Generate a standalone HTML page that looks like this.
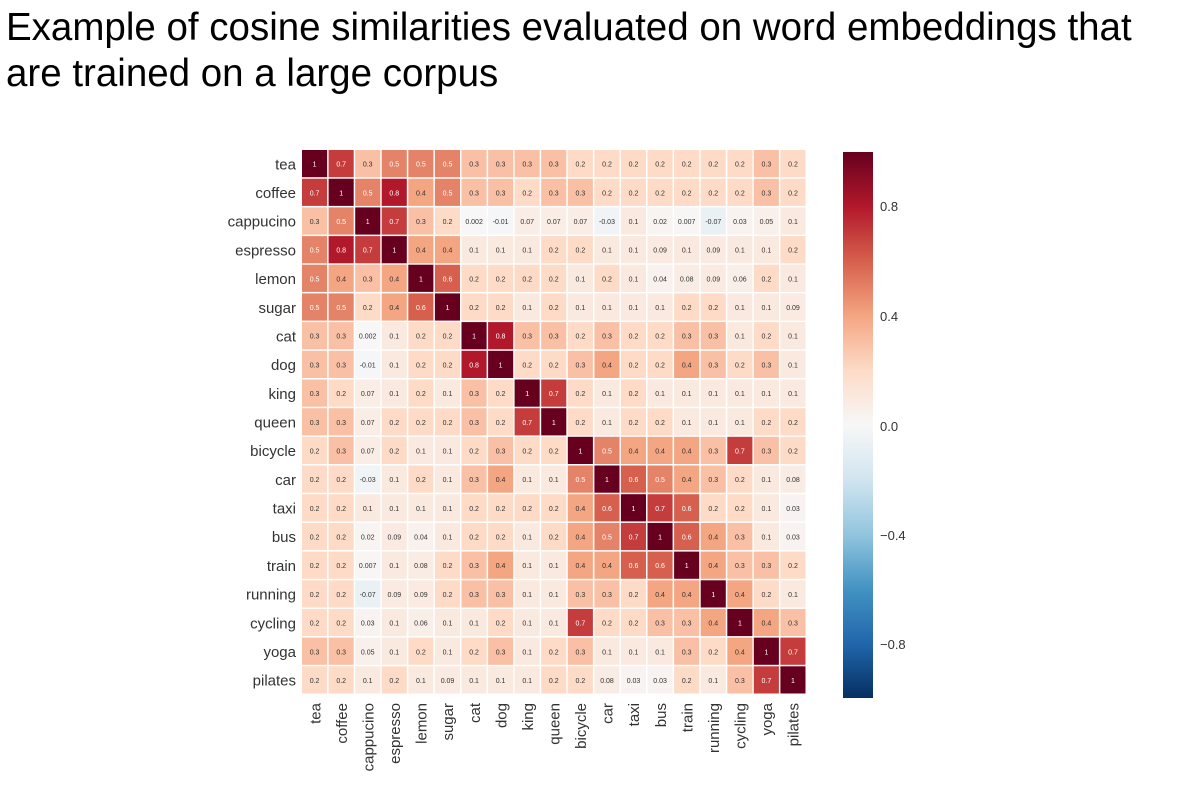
<!DOCTYPE html>
<html><head><meta charset="utf-8"><style>
body{margin:0;background:#fff;width:1186px;height:802px;overflow:hidden;font-family:"Liberation Sans",sans-serif}
.t{position:absolute;left:6px;top:5px;font-size:38.5px;line-height:46px;color:#000;white-space:nowrap}
svg{position:absolute;left:0;top:0}
</style></head><body>
<div class="t">Example of cosine similarities evaluated on word embeddings that<br>are trained on a large corpus</div>
<svg id="s" width="1186" height="802" xmlns="http://www.w3.org/2000/svg">
<defs><linearGradient id="g" x1="0" y1="0" x2="0" y2="1">
<stop offset="0" stop-color="#67001f"/><stop offset="0.1" stop-color="#b2182b"/><stop offset="0.2" stop-color="#d6604d"/><stop offset="0.3" stop-color="#f4a582"/><stop offset="0.4" stop-color="#fddbc7"/><stop offset="0.5" stop-color="#f7f7f7"/><stop offset="0.6" stop-color="#d1e5f0"/><stop offset="0.7" stop-color="#92c5de"/><stop offset="0.8" stop-color="#4393c3"/><stop offset="0.9" stop-color="#2166ac"/><stop offset="1" stop-color="#053061"/></linearGradient></defs>
<rect x="843" y="152" width="30" height="546" fill="url(#g)"/>
<g font-size="13" fill="#333">
<text x="880" y="211">0.8</text><text x="880" y="321">0.4</text><text x="880" y="431">0.0</text><text x="880" y="540">−0.4</text><text x="880" y="649">−0.8</text></g>
</svg>
<script>
var L=["tea","coffee","cappucino","espresso","lemon","sugar","cat","dog","king","queen","bicycle","car","taxi","bus","train","running","cycling","yoga","pilates"];
var M=[
[1,.7,.3,.5,.5,.5,.3,.3,.3,.3,.2,.2,.2,.2,.2,.2,.2,.3,.2],
[.7,1,.5,.8,.4,.5,.3,.3,.2,.3,.3,.2,.2,.2,.2,.2,.2,.3,.2],
[.3,.5,1,.7,.3,.2,.002,-.01,.07,.07,.07,-.03,.1,.02,.007,-.07,.03,.05,.1],
[.5,.8,.7,1,.4,.4,.1,.1,.1,.2,.2,.1,.1,.09,.1,.09,.1,.1,.2],
[.5,.4,.3,.4,1,.6,.2,.2,.2,.2,.1,.2,.1,.04,.08,.09,.06,.2,.1],
[.5,.5,.2,.4,.6,1,.2,.2,.1,.2,.1,.1,.1,.1,.2,.2,.1,.1,.09],
[.3,.3,.002,.1,.2,.2,1,.8,.3,.3,.2,.3,.2,.2,.3,.3,.1,.2,.1],
[.3,.3,-.01,.1,.2,.2,.8,1,.2,.2,.3,.4,.2,.2,.4,.3,.2,.3,.1],
[.3,.2,.07,.1,.2,.1,.3,.2,1,.7,.2,.1,.2,.1,.1,.1,.1,.1,.1],
[.3,.3,.07,.2,.2,.2,.3,.2,.7,1,.2,.1,.2,.2,.1,.1,.1,.2,.2],
[.2,.3,.07,.2,.1,.1,.2,.3,.2,.2,1,.5,.4,.4,.4,.3,.7,.3,.2],
[.2,.2,-.03,.1,.2,.1,.3,.4,.1,.1,.5,1,.6,.5,.4,.3,.2,.1,.08],
[.2,.2,.1,.1,.1,.1,.2,.2,.2,.2,.4,.6,1,.7,.6,.2,.2,.1,.03],
[.2,.2,.02,.09,.04,.1,.2,.2,.1,.2,.4,.5,.7,1,.6,.4,.3,.1,.03],
[.2,.2,.007,.1,.08,.2,.3,.4,.1,.1,.4,.4,.6,.6,1,.4,.3,.3,.2],
[.2,.2,-.07,.09,.09,.2,.3,.3,.1,.1,.3,.3,.2,.4,.4,1,.4,.2,.1],
[.2,.2,.03,.1,.06,.1,.1,.2,.1,.1,.7,.2,.2,.3,.3,.4,1,.4,.3],
[.3,.3,.05,.1,.2,.1,.2,.3,.1,.2,.3,.1,.1,.1,.3,.2,.4,1,.7],
[.2,.2,.1,.2,.1,.09,.1,.1,.1,.2,.2,.08,.03,.03,.2,.1,.3,.7,1]];
var C=[[5,48,97],[33,102,172],[67,147,195],[146,197,222],[209,229,240],[247,247,247],[253,219,199],[244,165,130],[214,96,77],[178,24,43],[103,0,31]];
function col(v){var t=(v+1)*5;var i=Math.min(9,Math.floor(t));var f=t-i;var a=C[i],b=C[i+1];return "rgb("+a.map(function(x,k){return Math.round(x+(b[k]-x)*f)}).join(",")+")";}
var s=document.getElementById("s"),h="";
var x0=302,y0=150,cw=505/19,ch=545/19;
for(var r=0;r<19;r++){for(var c=0;c<19;c++){var v=M[r][c];var x=x0+c*cw,y=y0+r*ch;
h+='<rect x="'+x.toFixed(1)+'" y="'+y.toFixed(1)+'" width="'+(cw-1.5).toFixed(1)+'" height="'+(ch-1.5).toFixed(1)+'" fill="'+col(v)+'"/>';
var s2=(v==1?"1":(v<0?"-":"")+String(Math.abs(v)).replace(/^0?\./,"0."));
var fc=v>=0.5?"#fff":"#333";
h+='<text x="'+(x+cw/2-0.7).toFixed(1)+'" y="'+(y+ch/2+2.3).toFixed(1)+'" font-size="7" text-anchor="middle" fill="'+fc+'">'+s2+'</text>';}
h+='<text x="296" y="'+(y0+r*ch+ch/2+5).toFixed(1)+'" font-size="15" text-anchor="end" fill="#333">'+L[r]+'</text>';
var cx=x0+r*cw+cw/2+5;h+='<text transform="translate('+cx.toFixed(1)+',703) rotate(-90)" font-size="15" text-anchor="end" fill="#333">'+L[r]+'</text>';}
s.insertAdjacentHTML("beforeend",h);
</script>
</body></html>
